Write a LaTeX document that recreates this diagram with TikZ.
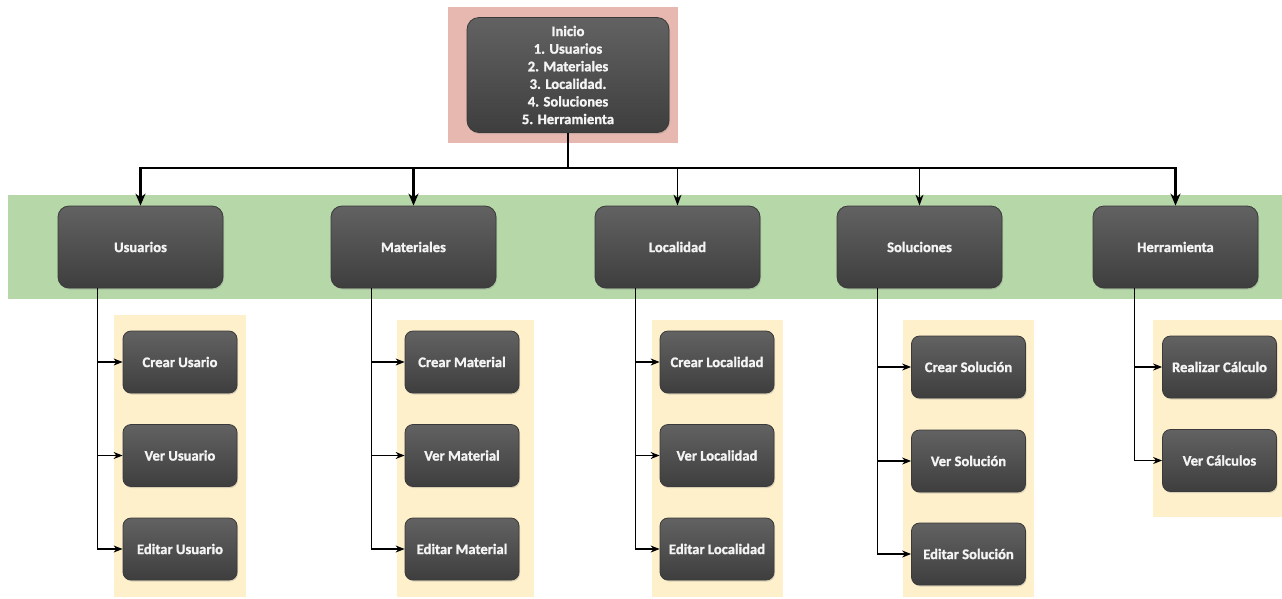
\documentclass[tikz,border=0pt]{standalone}
\usepackage{fontspec}
\setmainfont{Carlito}
\newfontfamily\boxfont{Carlito}[BoldFeatures={FakeBold=1.3}]
\usetikzlibrary{arrows.meta,shadows,calc}
\definecolor{pinkbg}{HTML}{E6B8AF}
\definecolor{greenbg}{HTML}{B6D7A8}
\definecolor{yellowbg}{HTML}{FFF0CC}
\definecolor{boxtop}{HTML}{626262}
\definecolor{boxbot}{HTML}{3E3E3E}
\definecolor{boxline}{HTML}{3A3A3A}
\definecolor{boxtext}{HTML}{F4F4F4}
\tikzset{
  box/.style={draw=boxline, line width=0.8pt, top color=boxtop, bottom color=boxbot,
    text=boxtext, font=\boxfont\bfseries\fontsize{14.6}{17.6}\selectfont, align=center,
    inner sep=0pt, drop shadow={opacity=0.3, shadow xshift=1pt, shadow yshift=-1.5pt}},
  mainbox/.style={box, rounded corners=12pt, minimum width=202pt, minimum height=115pt},
  secbox/.style={box, rounded corners=11pt, minimum width=165pt, minimum height=82pt},
  leafbox/.style={box, rounded corners=8pt, minimum width=114pt, minimum height=62pt},
  heavy/.style={line width=2.4pt, -{Stealth[length=12pt,width=10pt]}},
  light/.style={line width=1.2pt, -{Stealth[length=11pt,width=8pt]}},
  branch/.style={line width=1.1pt, -{Stealth[length=9pt,width=7pt]}},
}
\begin{document}
\begin{tikzpicture}[x=1pt,y=-1pt]
\useasboundingbox (0,0) rectangle (1282,598);
% background bands
\fill[pinkbg] (448,7) rectangle (678,143);
\fill[greenbg] (8,195) rectangle (1282,299);
\fill[yellowbg] (114,315) rectangle (246,597);
\fill[yellowbg] (397,320) rectangle (534,597);
\fill[yellowbg] (652,320) rectangle (783,597);
\fill[yellowbg] (903,320) rectangle (1034,597);
\fill[yellowbg] (1153,320) rectangle (1282,517);

% main menu
\node[mainbox] (inicio) at (568,75) {Inicio\\1. Usuarios\\2. Materiales\\3. Localidad.\\4. Soluciones\\5. Herramienta};

% sections
\node[secbox] (usu) at (140.5,247) {Usuarios};
\node[secbox] (mat) at (413.5,247) {Materiales};
\node[secbox] (loc) at (677.5,247) {Localidad};
\node[secbox] (sol) at (919.5,247) {Soluciones};
\node[secbox] (her) at (1175.5,247) {Herramienta};

% actions
\node[leafbox] (u1) at (180,362) {Crear Usario};
\node[leafbox] (u2) at (180,455.5) {Ver Usuario};
\node[leafbox] (u3) at (180,549) {Editar Usuario};
\node[leafbox] (m1) at (462,362) {Crear Material};
\node[leafbox] (m2) at (462,455.5) {Ver Material};
\node[leafbox] (m3) at (462,549) {Editar Material};
\node[leafbox] (l1) at (717,362) {Crear Localidad};
\node[leafbox] (l2) at (717,455.5) {Ver Localidad};
\node[leafbox] (l3) at (717,549) {Editar Localidad};
\node[leafbox] (s1) at (968.5,367) {Crear Solución};
\node[leafbox] (s2) at (968.5,461) {Ver Solución};
\node[leafbox] (s3) at (968.5,554) {Editar Solución};
\node[leafbox] (h1) at (1219.5,367) {Realizar Cálculo};
\node[leafbox] (h2) at (1219.5,460.5) {Ver Cálculos};

% menu to sections
\coordinate (bus) at (568,168);
\draw[line width=2.4pt] (inicio.south) -- (bus);
\draw[heavy] (bus) -| (usu.north);
\draw[heavy] (bus) -| (mat.north);
\draw[light] (bus) -| (loc.north);
\draw[light] (bus) -| (sol.north);
\draw[heavy] (bus) -| (her.north);

% sections to actions
\foreach \p/\dx/\kids in {usu/40/{u1,u2,u3}, mat/41/{m1,m2,m3}, loc/41/{l1,l2,l3}, sol/41/{s1,s2,s3}, her/42/{h1,h2}}{
  \foreach \k in \kids {
    \draw[branch] ([xshift=\dx pt]\p.south west) |- (\k.west);
  }
}
\end{tikzpicture}
\end{document}
